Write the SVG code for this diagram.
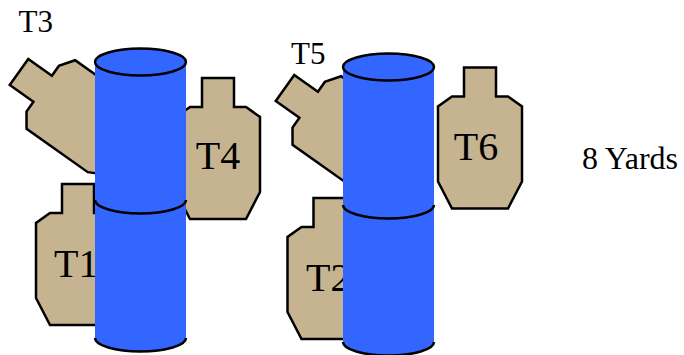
<svg xmlns="http://www.w3.org/2000/svg" xmlns:xlink="http://www.w3.org/1999/xlink" width="684" height="355" viewBox="0 0 684 355">
<defs>
<style>
.tgt{fill:#C6B490;stroke:#000;stroke-width:2.5;stroke-linejoin:miter}
.lbl{font-family:"Liberation Serif","Times New Roman",serif;fill:#000}
.big{font-size:40px}
.small{font-size:31px}
.yards{font-size:32px}
.body{fill:#3366FF;stroke:none}
.rim{fill:#3366FF;stroke:#000;stroke-width:2.5}
.arc{fill:none;stroke:#000;stroke-width:2.5}
</style>
<polygon id="tgtShape" points="-16,0 16,0 16,29 28,29 42,39 42,114 28,141 -28,141 -42,114 -42,39 -28,29 -16,29"/>
</defs>
<rect width="684" height="355" fill="#fff"/>

<g id="T3">
<use xlink:href="#tgtShape" href="#tgtShape" class="tgt" transform="translate(19,72) rotate(-54.7)"/>
<text class="lbl small" x="18.5" y="32">T3</text>
</g>
<g id="T4">
<use xlink:href="#tgtShape" href="#tgtShape" class="tgt" transform="translate(218,78)"/>
<text class="lbl big" x="218" y="169" text-anchor="middle">T4</text>
</g>
<g id="T1">
<use xlink:href="#tgtShape" href="#tgtShape" class="tgt" transform="translate(78,184)"/>
<text class="lbl big" x="54" y="277">T1</text>
</g>
<g id="T5">
<use xlink:href="#tgtShape" href="#tgtShape" class="tgt" transform="translate(285,88) rotate(-54.7)"/>
<text class="lbl small" x="291" y="64">T5</text>
</g>
<g id="T6">
<use xlink:href="#tgtShape" href="#tgtShape" class="tgt" transform="translate(480,67.5)"/>
<text class="lbl big" x="476" y="160" text-anchor="middle">T6</text>
</g>
<g id="T2">
<use xlink:href="#tgtShape" href="#tgtShape" class="tgt" transform="translate(329.5,198)"/>
<text class="lbl big" x="306" y="291">T2</text>
</g>

<g id="cylinder-left-lower">
<path class="body" d="M95,200 L95,338 A45.5,13.5 0 0 0 186,338 L186,200 Z"/>
<path class="arc" d="M95,338 A45.5,13.5 0 0 0 186,338"/>
</g>
<g id="cylinder-left-upper">
<path class="body" d="M95,62 L95,200 A45.5,13.5 0 0 0 186,200 L186,62 Z"/>
<path class="arc" d="M95,200 A45.5,13.5 0 0 0 186,200"/>
<ellipse class="rim" cx="140.5" cy="62" rx="45.5" ry="13.5"/>
</g>
<g id="cylinder-right-lower">
<path class="body" d="M343,205 L343,342 A45.5,13.5 0 0 0 434,342 L434,205 Z"/>
<path class="arc" d="M343,342 A45.5,13.5 0 0 0 434,342"/>
</g>
<g id="cylinder-right-upper">
<path class="body" d="M343,67 L343,205 A45.5,13.5 0 0 0 434,205 L434,67 Z"/>
<path class="arc" d="M343,205 A45.5,13.5 0 0 0 434,205"/>
<ellipse class="rim" cx="388.5" cy="67" rx="45.5" ry="13.5"/>
</g>

<g id="distance-label">
<text class="lbl yards" x="582" y="169">8 Yards</text>
</g>
</svg>
